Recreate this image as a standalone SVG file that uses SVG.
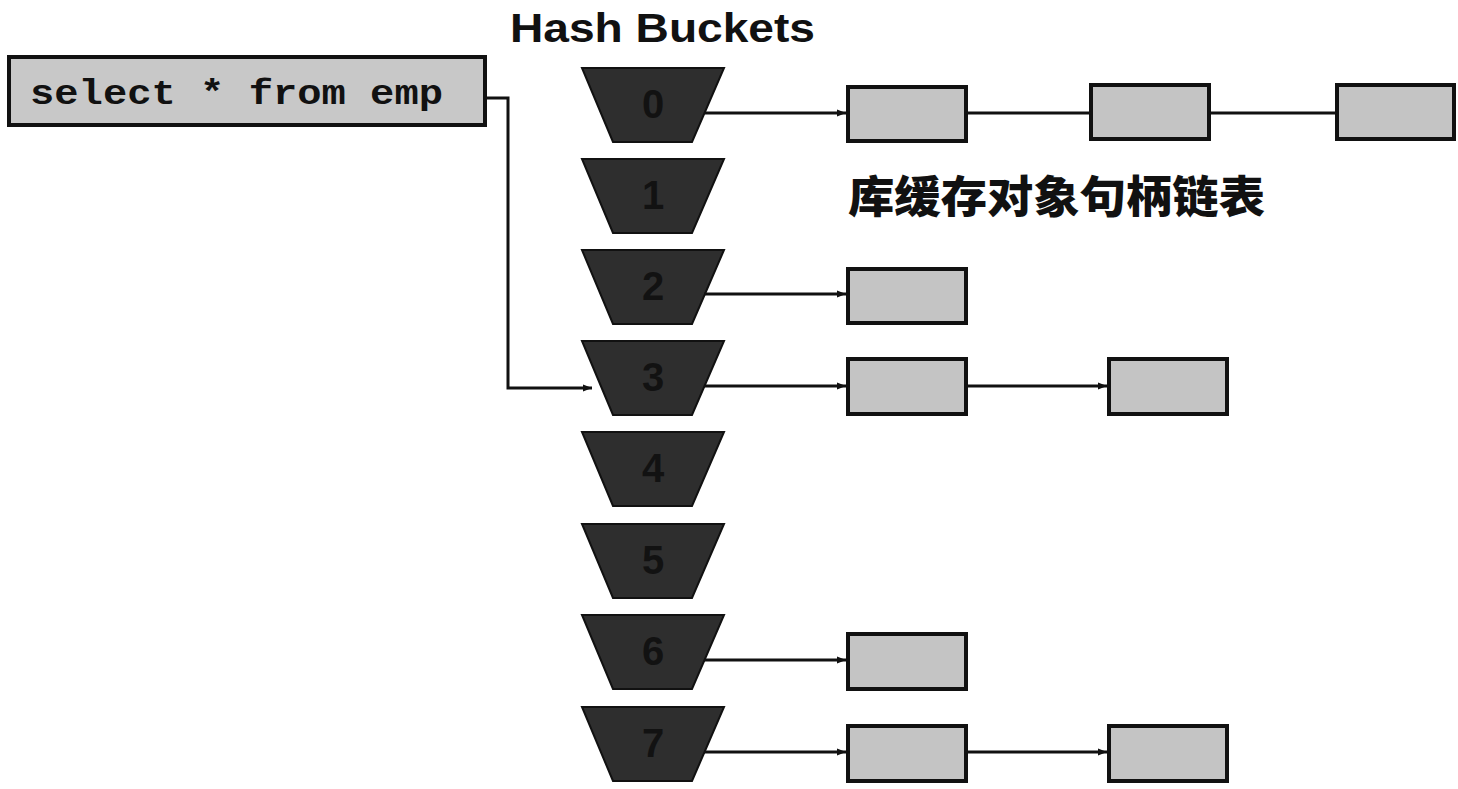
<svg xmlns="http://www.w3.org/2000/svg" width="1458" height="789" viewBox="0 0 1458 789">
<style>
.bucket{fill:#2e2e2e;stroke:#111;stroke-width:2}
.num{font-family:"Liberation Sans",Arial,sans-serif;font-weight:bold;font-size:40px;fill:#121212;text-anchor:middle}
.obj{fill:#c4c4c4;stroke:#111;stroke-width:4}
.ln{fill:none;stroke:#111;stroke-width:3}
</style>
<defs>
<marker id="ah" viewBox="0 0 10 10" refX="10" refY="5" markerWidth="3" markerHeight="3" orient="auto" markerUnits="strokeWidth">
<path d="M0,1 L10,5 L0,9 z" fill="#111"/>
</marker>
<path id="trap" d="M0,0 L142,0 L110,74 L31,74 Z"/>
</defs>
<rect width="1458" height="789" fill="#fff"/>
<text x="510" y="42" font-family="'Liberation Sans',Arial,sans-serif" font-weight="bold" font-size="40" textLength="305" lengthAdjust="spacingAndGlyphs" fill="#111">Hash Buckets</text>
<g id="query">
<rect x="9" y="57" width="476" height="68" fill="#c8c8c8" stroke="#111" stroke-width="4"/>
<text x="30" y="104" font-family="'Liberation Mono','Courier New',monospace" font-weight="bold" font-size="35" textLength="413" lengthAdjust="spacingAndGlyphs" fill="#111">select * from emp</text>
</g>
<g id="buckets">
<g id="b0"><use href="#trap" x="582" y="68" class="bucket"/><text class="num" x="653" y="118">0</text></g>
<g id="b1"><use href="#trap" x="582" y="159" class="bucket"/><text class="num" x="653" y="209">1</text></g>
<g id="b2"><use href="#trap" x="582" y="250" class="bucket"/><text class="num" x="653" y="300">2</text></g>
<g id="b3"><use href="#trap" x="582" y="341" class="bucket"/><text class="num" x="653" y="391">3</text></g>
<g id="b4"><use href="#trap" x="582" y="432" class="bucket"/><text class="num" x="653" y="482">4</text></g>
<g id="b5"><use href="#trap" x="582" y="524" class="bucket"/><text class="num" x="653" y="574">5</text></g>
<g id="b6"><use href="#trap" x="582" y="615" class="bucket"/><text class="num" x="653" y="665">6</text></g>
<g id="b7"><use href="#trap" x="582" y="707" class="bucket"/><text class="num" x="653" y="757">7</text></g>
</g>
<g id="objects">
<rect class="obj" x="848" y="87" width="118" height="54"/>
<rect class="obj" x="1091" y="85" width="118" height="54"/>
<rect class="obj" x="1337" y="85" width="117" height="54"/>
<rect class="obj" x="848" y="269" width="118" height="54"/>
<rect class="obj" x="848" y="359" width="118" height="55"/>
<rect class="obj" x="1109" y="359" width="118" height="55"/>
<rect class="obj" x="848" y="634" width="118" height="55"/>
<rect class="obj" x="848" y="726" width="118" height="55"/>
<rect class="obj" x="1109" y="726" width="118" height="55"/>
</g>
<text x="848" y="213" font-family="'Noto Sans CJK SC',sans-serif" font-weight="900" font-size="44" textLength="417" lengthAdjust="spacingAndGlyphs" fill="#111">库缓存对象句柄链表</text>
<g id="connectors">
<path class="ln" d="M485,98 H508 V388 H592" marker-end="url(#ah)"/>
<path class="ln" d="M705,113 H846" marker-end="url(#ah)"/>
<path class="ln" d="M966,113 H1091"/>
<path class="ln" d="M1209,113 H1337"/>
<path class="ln" d="M704,294 H846" marker-end="url(#ah)"/>
<path class="ln" d="M704,386 H846" marker-end="url(#ah)"/>
<path class="ln" d="M966,386 H1107" marker-end="url(#ah)"/>
<path class="ln" d="M704,660 H846" marker-end="url(#ah)"/>
<path class="ln" d="M704,752 H846" marker-end="url(#ah)"/>
<path class="ln" d="M966,752 H1107" marker-end="url(#ah)"/>
</g>
</svg>
